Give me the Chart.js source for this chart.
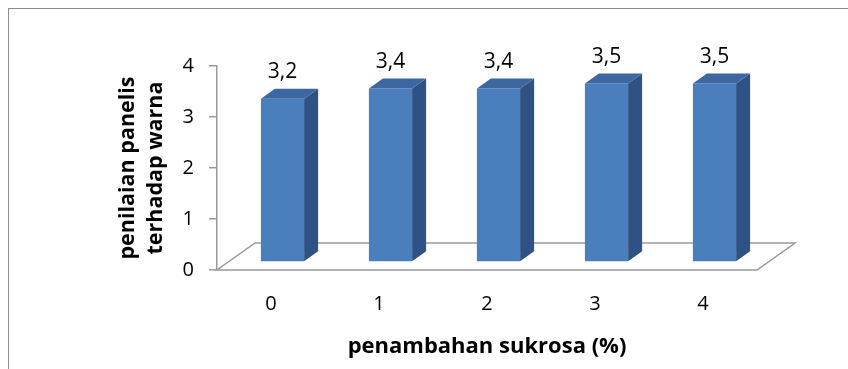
<!DOCTYPE html>
<html>
<head>
<meta charset="utf-8">
<script src="https://cdn.jsdelivr.net/npm/chart.js@4.4.0/dist/chart.umd.min.js"></script>
<style>
    html, body { margin: 0; padding: 0; background: #fff; }
    #wrap { position: relative; width: 848px; height: 369px; overflow: hidden; }
    #frame { position: absolute; left: 8px; top: 8px; right: -2px; bottom: -2px; border-left: 1px solid #8c8c8c; border-top: 1px solid #8c8c8c; }
    canvas { position: absolute; left: 0; top: 0; }
</style>
</head>
<body>
<div id="wrap">
    <div id="frame"></div>
    <canvas id="barChart" width="848" height="369"></canvas>
</div>
<script>
// chart data
var categories = ['0', '1', '2', '3', '4'];
var scores = [3.2, 3.4, 3.4, 3.5, 3.5];
var yTickValues = [0, 1, 2, 3, 4];
var yTitle = ['penilaian panelis', 'terhadap warna'];
var xTitle = 'penambahan sukrosa (%)';

var fontFamily = '"Open Sans", Lato, sans-serif';

// 3D look of the Excel chart
var floorDepth = { x: 38, y: 27 };
var barShift = { x: 11.5, y: -8 };
var barDepth = { x: 14, y: 10 };
var frontColor = '#4b7ebd';
var topColor = '#3c67a2';
var sideColor = '#2f5285';
var axisColor = '#9a9a9a';

function formatValue(v) {
    return v.toFixed(1).replace('.', ',');
}

var floorPlugin = {
    id: 'floor3d',
    beforeDatasetsDraw: function (chart) {
        var ctx = chart.ctx;
        var area = chart.chartArea;
        var base = chart.scales.y.getPixelForValue(0);

        ctx.save();
        ctx.beginPath();
        ctx.moveTo(area.left, base);
        ctx.lineTo(area.right, base);
        ctx.lineTo(area.right + floorDepth.x, base - floorDepth.y);
        ctx.lineTo(area.left + floorDepth.x, base - floorDepth.y);
        ctx.closePath();
        ctx.fillStyle = '#ffffff';
        ctx.fill();
        ctx.strokeStyle = axisColor;
        ctx.lineWidth = 1.5;
        ctx.stroke();
        ctx.restore();

        //Shift the bars back onto the middle of the floor.
        ctx.save();
        ctx.translate(barShift.x, barShift.y);
    },
    afterDatasetsDraw: function (chart) {
        var ctx = chart.ctx;
        var meta = chart.getDatasetMeta(0);

        //Loop over each bar and add the side and top faces.
        meta.data.forEach(function (bar) {
            var half = bar.width / 2;
            var left = bar.x - half;
            var right = bar.x + half;

            ctx.beginPath();
            ctx.moveTo(right, bar.base);
            ctx.lineTo(right, bar.y);
            ctx.lineTo(right + barDepth.x, bar.y - barDepth.y);
            ctx.lineTo(right + barDepth.x, bar.base - barDepth.y);
            ctx.closePath();
            ctx.fillStyle = sideColor;
            ctx.fill();

            ctx.beginPath();
            ctx.moveTo(left, bar.y);
            ctx.lineTo(right, bar.y);
            ctx.lineTo(right + barDepth.x, bar.y - barDepth.y);
            ctx.lineTo(left + barDepth.x, bar.y - barDepth.y);
            ctx.closePath();
            ctx.fillStyle = topColor;
            ctx.fill();
        });

        //Value labels above each bar.
        ctx.fillStyle = '#000000';
        ctx.font = '21px ' + fontFamily;
        ctx.textAlign = 'center';
        ctx.textBaseline = 'middle';
        meta.data.forEach(function (bar, i) {
            ctx.fillText(formatValue(scores[i]), bar.x, bar.y - 26.5);
        });

        ctx.restore();
    }
};

function initChart() {
    var barChartControl = document.getElementById('barChart');

    var barChart = new Chart(barChartControl, {
        type: 'bar',
        data: {
            labels: categories,
            datasets: [{
                data: scores,
                backgroundColor: frontColor,
                borderWidth: 0,
                categoryPercentage: 1,
                barPercentage: 0.4
            }]
        },
        plugins: [floorPlugin],
        options: {
            responsive: false,
            animation: false,
            devicePixelRatio: 1,
            layout: {
                padding: { left: 0, right: 91, top: 66, bottom: 0 }
            },
            scales: {
                y: {
                    min: 0,
                    max: 4,
                    afterBuildTicks: function (scale) {
                        scale.ticks = yTickValues.map(function (v) { return { value: v }; });
                    },
                    afterFit: function (scale) {
                        scale.width = 217;
                    },
                    grid: {
                        drawOnChartArea: false,
                        drawTicks: true,
                        tickLength: 8,
                        color: axisColor,
                        lineWidth: 1.5
                    },
                    border: {
                        display: true,
                        color: axisColor,
                        width: 1.5
                    },
                    ticks: {
                        padding: 15,
                        color: '#000000',
                        font: { family: fontFamily, size: 20 }
                    },
                    title: {
                        display: true,
                        text: yTitle,
                        color: '#000000',
                        padding: { top: 114, bottom: 0 },
                        font: { family: fontFamily, size: 21.5, weight: 'bold', lineHeight: 1.3 }
                    }
                },
                x: {
                    afterFit: function (scale) {
                        scale.height = 99;
                    },
                    grid: { display: false },
                    border: { display: false },
                    ticks: {
                        padding: 14,
                        color: '#000000',
                        font: { family: fontFamily, size: 20 }
                    },
                    title: {
                        display: true,
                        text: xTitle,
                        color: '#000000',
                        padding: { top: 0, bottom: 9 },
                        font: { family: fontFamily, size: 22, weight: 'bold' }
                    }
                }
            },
            plugins: {
                legend: { display: false },
                tooltip: { enabled: false }
            }
        }
    });
}

initChart();
</script>
</body>
</html>
